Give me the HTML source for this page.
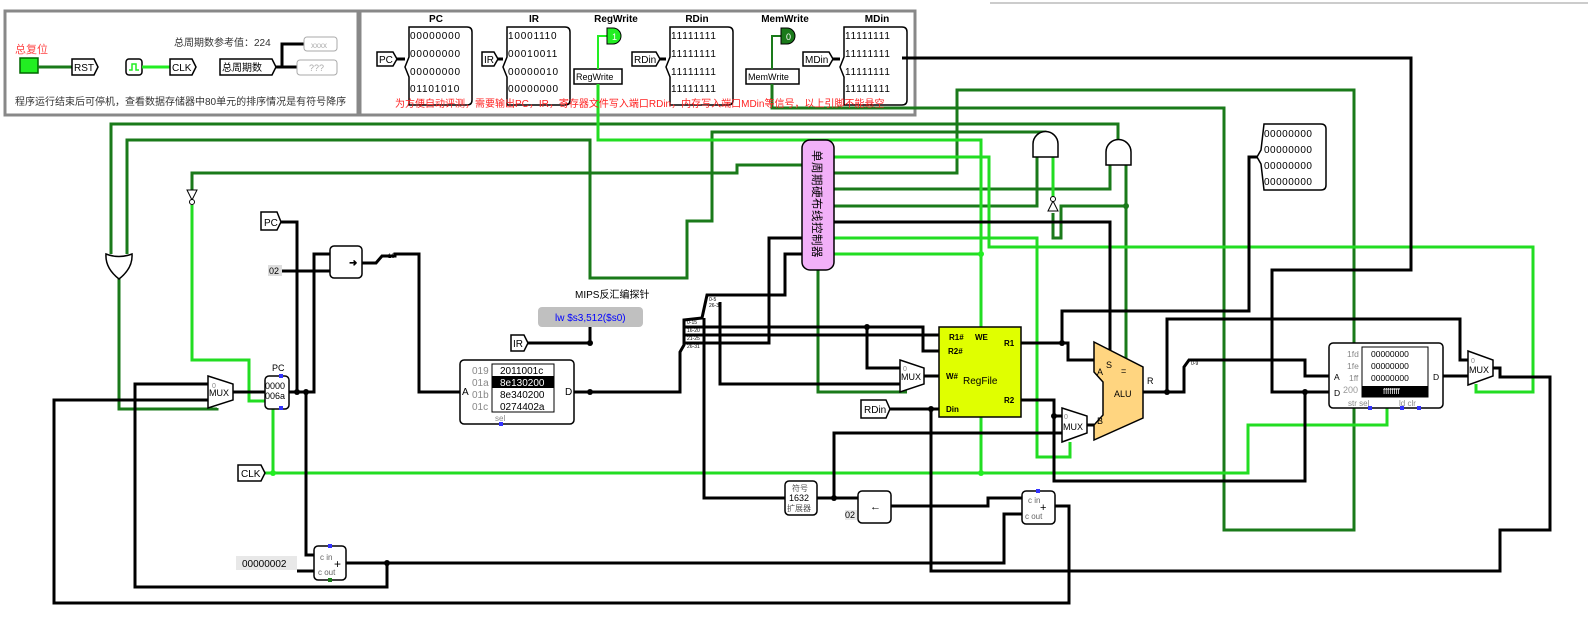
<!DOCTYPE html>
<html><head><meta charset="utf-8"><style>
body{margin:0;background:#fff;width:1588px;height:634px;overflow:hidden}
svg{display:block}
text{font-family:"Liberation Sans","Noto Sans CJK SC",sans-serif}
</style></head><body>
<svg width="1588" height="634" viewBox="0 0 1588 634" xmlns="http://www.w3.org/2000/svg">
<line x1="990" y1="3" x2="1588" y2="3" stroke="#999" stroke-width="1"/>
<!-- panels -->
<rect x="5" y="11" width="353" height="104" fill="#fff" stroke="#888" stroke-width="3"/>
<rect x="360" y="11" width="555" height="104" fill="#fff" stroke="#888" stroke-width="3"/>
<text x="15" y="53" font-size="11" fill="#f44">总复位</text>
<rect x="20" y="58" width="18" height="15" fill="#2e2" stroke="#060" stroke-width="1.5"/>
<line x1="38" y1="67" x2="72" y2="67" stroke="#1a7a1a" stroke-width="3"/>
<path d="M72 59h22l4 8-4 8h-22z" fill="#fff" stroke="#000" stroke-width="1.5"/><text x="74" y="71" font-size="10">RST</text>
<rect x="126" y="59" width="16" height="16" rx="3" fill="#fff" stroke="#000" stroke-width="1.5"/>
<path d="M129 70h3v-6h4v6h3" fill="none" stroke="#2e2" stroke-width="1.5"/>
<line x1="142" y1="67" x2="170" y2="67" stroke="#2e2" stroke-width="3"/>
<path d="M170 59h22l4 8-4 8h-22z" fill="#fff" stroke="#000" stroke-width="1.5"/><text x="172" y="71" font-size="10">CLK</text>
<text x="174" y="46" font-size="10" fill="#333">总周期数参考值：224</text>
<path d="M220 59h52l4 8-4 8h-52z" fill="#fff" stroke="#000" stroke-width="1.5"/><text x="222" y="71" font-size="10">总周期数</text>
<path d="M276 67h22M282 67v-23h22M282 67h16" fill="none" stroke="#000" stroke-width="3"/>
<rect x="304" y="37" width="33" height="14" rx="3" fill="#fff" stroke="#aaa"/><text x="311" y="48" font-size="8" fill="#aaa">xxxx</text>
<rect x="297" y="60" width="40" height="15" rx="3" fill="#fff" stroke="#aaa"/><text x="309" y="71" font-size="9" fill="#aaa">???</text>
<text x="15" y="105" font-size="10" fill="#333">程序运行结束后可停机，查看数据存储器中80单元的排序情况是有符号降序</text>
<!-- probes -->
<g font-size="10" font-weight="bold" text-anchor="middle">
<text x="436" y="22">PC</text><text x="534" y="22">IR</text><text x="616" y="22">RegWrite</text><text x="697" y="22">RDin</text><text x="785" y="22">MemWrite</text><text x="877" y="22">MDin</text></g>
<g font-size="10" font-family="Liberation Mono" letter-spacing="0.8">
<path d="M409 27h58q5 0 5 5v68q0 5-5 5h-58v-28l-4-10 4-10z" fill="#fff" stroke="#000" stroke-width="1.5"/>
<text x="410" y="39">00000000</text><text x="410" y="57">00000000</text><text x="410" y="75">00000000</text><text x="410" y="92">01101010</text>
<path d="M507 27h58q5 0 5 5v68q0 5-5 5h-58v-28l-4-10 4-10z" fill="#fff" stroke="#000" stroke-width="1.5"/>
<text x="508" y="39">10001110</text><text x="508" y="57">00010011</text><text x="508" y="75">00000010</text><text x="508" y="92">00000000</text>
<path d="M670 27h58q5 0 5 5v68q0 5-5 5h-58v-28l-4-10 4-10z" fill="#fff" stroke="#000" stroke-width="1.5"/>
<text x="671" y="39">11111111</text><text x="671" y="57">11111111</text><text x="671" y="75">11111111</text><text x="671" y="92">11111111</text>
<path d="M844 27h58q5 0 5 5v68q0 5-5 5h-58v-28l-4-10 4-10z" fill="#fff" stroke="#000" stroke-width="1.5"/>
<text x="845" y="39">11111111</text><text x="845" y="57">11111111</text><text x="845" y="75">11111111</text><text x="845" y="92">11111111</text>
</g>
<g font-size="10" stroke-width="1.5">
<path d="M377 52h16l4 7-4 7h-16z" fill="#fff" stroke="#000"/><text x="379" y="63">PC</text><line x1="397" y1="59" x2="405" y2="59" stroke="#000" stroke-width="3"/>
<path d="M482 52h12l4 7-4 7h-12z" fill="#fff" stroke="#000"/><text x="484" y="63">IR</text><line x1="498" y1="59" x2="503" y2="59" stroke="#000" stroke-width="3"/>
<path d="M632 52h24l4 7-4 7h-24z" fill="#fff" stroke="#000"/><text x="634" y="63">RDin</text><line x1="660" y1="59" x2="666" y2="59" stroke="#000" stroke-width="3"/>
<path d="M803 52h26l4 7-4 7h-26z" fill="#fff" stroke="#000"/><text x="805" y="63">MDin</text><line x1="833" y1="59" x2="840" y2="59" stroke="#000" stroke-width="3"/>
<rect x="574" y="69" width="48" height="15" fill="#fff" stroke="#000"/><text x="576" y="80" font-size="9">RegWrite</text>
<rect x="746" y="69" width="53" height="15" fill="#fff" stroke="#000"/><text x="748" y="80" font-size="9">MemWrite</text>
</g>
<path d="M598 69v-33h10" fill="none" stroke="#2e2" stroke-width="2"/>
<path d="M607 28h6a8 8 0 0 1 0 16h-6z" fill="#2e2" stroke="#000"/><text x="612" y="40" font-size="9" fill="#fff">1</text>
<path d="M772 69v-33h10" fill="none" stroke="#1a7a1a" stroke-width="2"/>
<path d="M781 28h6a8 8 0 0 1 0 16h-6z" fill="#1a7a1a" stroke="#000"/><text x="786" y="40" font-size="9" fill="#fff">0</text>

<!-- dark green wires -->
<g fill="none" stroke="#1a7a1a" stroke-width="3">
<path d="M772 84V108H1224V530H1354V408"/>
<path d="M111 254V124H1118V140"/>
<path d="M127 254V140H590V278H687V221H712V132H1045V134"/>
<path d="M192 190V173H737V165H802"/>
<path d="M119 279V409H217V408"/>
<path d="M834 173H957V90H1354V343"/>
<path d="M834 189H1110V165"/>
<path d="M834 206H1037V157"/>
<path d="M1053 213V238H1061V206H1126V360M1126 165V206"/>
<path d="M818 270V392H907"/>
</g>
<!-- light green wires -->
<g fill="none" stroke="#22dd22" stroke-width="3">
<path d="M598 84V140H981V327"/>
<path d="M834 254H981"/>
<path d="M834 157H989V247H1533V392H1476V384"/>
<path d="M834 238H1037V457H1070V442"/>
<path d="M1053 157V198"/>
<path d="M192 205V360H249V401H265"/>
<path d="M265 473H1248V425H1387V408"/>
<path d="M273 473V409"/>
<path d="M981 417V473"/>
</g>
<!-- black wires -->
<g fill="none" stroke="#000" stroke-width="3">
<path d="M281 222H297V392"/>
<path d="M233 392H265M289 392H314V254H330M306 392V555H314"/>
<path d="M282 271H330"/>
<path d="M362 263H376L382 256H395V254H419V392H460"/>
<path d="M297 571H314"/>
<path d="M346 563H1004V514H1022"/>
<path d="M387 563V587H135V384H208"/>
<path d="M208 400H54V603H1069V506H1055"/>
<path d="M528 343H590V327"/>
<path d="M574 392H680V352L684 345V320L702 318L707 295H785V254H802"/>
<path d="M684 327H923V351H939M867 327V368H900"/>
<path d="M684 335H939"/>
<path d="M684 343H769V238H802"/>
<path d="M704 318V498H785"/>
<path d="M720 302V384H900"/>
<path d="M924 376H939"/>
<path d="M889 409H939M931 409V571H1500V530H1550V377H1500V368H1492"/>
<path d="M817 498H858M834 498V433H1062"/>
<path d="M891 506H988V498H1022"/>
<path d="M1021 343H1068V360H1094M1062 343V311H1249V157H1257"/>
<path d="M1021 400H1054V481H1305V392H1330M1054 416H1062"/>
<path d="M1087 425H1094"/>
<path d="M834 222H1110V351"/>
<path d="M1143 392H1167V319H1460V360H1468M1167 392H1184V367L1189 360H1305V376H1329"/>
<path d="M902 58H1411V270H1272V392H1305"/>
<path d="M1443 376H1468"/>
</g>
<!-- junction dots -->
<g fill="#000">
<circle cx="297" cy="392" r="3"/><circle cx="306" cy="392" r="3"/><circle cx="387" cy="563" r="3"/><circle cx="590" cy="343" r="3"/><circle cx="590" cy="392" r="3"/><circle cx="867" cy="327" r="3"/><circle cx="931" cy="409" r="3"/><circle cx="834" cy="498" r="3"/><circle cx="1062" cy="343" r="3"/><circle cx="1054" cy="416" r="3"/><circle cx="1167" cy="392" r="3"/><circle cx="1305" cy="392" r="3"/>
</g>
<g fill="#2e2"><circle cx="273" cy="473" r="3"/><circle cx="981" cy="254" r="3"/><circle cx="981" cy="473" r="3"/></g>
<g fill="#1a7a1a"><circle cx="1126" cy="206" r="3"/></g>
<!-- OR gate left -->
<path d="M106 254q13 5 26 0q1 14-13 25q-14-11-13-25z" fill="#fff" stroke="#000" stroke-width="1.5"/>
<!-- inverters -->
<path d="M187 190h10l-5 10z" fill="#fff" stroke="#000"/><circle cx="192" cy="202" r="2.5" fill="#fff" stroke="#000"/>
<path d="M1048 211h10l-5-10z" fill="#fff" stroke="#000"/><circle cx="1053" cy="199" r="2.5" fill="#fff" stroke="#000"/>
<!-- AND gates -->
<path d="M1033 157v-13a12 12 0 0 1 25 0v13z" fill="#fff" stroke="#000" stroke-width="1.5"/>
<path d="M1106 165v-13a12 12 0 0 1 25 0v13z" fill="#fff" stroke="#000" stroke-width="1.5"/>
<!-- controller -->
<rect x="802" y="140" width="32" height="130" rx="8" fill="#f2b0f8" stroke="#000" stroke-width="1.5"/>
<text font-size="11.5" transform="translate(813,150) rotate(90)" letter-spacing="0.5">单周期硬布线控制器</text>
<!-- PC area -->
<path d="M261 212h16l4 10-4 8h-16z" fill="#fff" stroke="#000" stroke-width="1.5"/><text x="264" y="226" font-size="10">PC</text>
<rect x="268" y="265" width="14" height="11" fill="#ddd"/><text x="269" y="274" font-size="9">02</text>
<rect x="330" y="246" width="32" height="32" rx="4" fill="#fff" stroke="#000" stroke-width="1.5"/><text x="349" y="266" font-size="10" font-weight="bold">➜</text>
<text x="388" y="258" font-size="6">10</text>
<path d="M208 376l25 8v16l-25 8z" fill="#fff" stroke="#000" stroke-width="1.5"/><text x="209" y="396" font-size="9">MUX</text><text x="212" y="388" font-size="7" fill="#888">0</text>
<text x="272" y="371" font-size="9">PC</text>
<rect x="265" y="376" width="24" height="33" rx="4" fill="#fff" stroke="#000" stroke-width="1.5"/>
<text x="265" y="389" font-size="9">0000</text><text x="265" y="399" font-size="9">006a</text>
<rect x="279" y="374" width="4" height="4" fill="#33f"/><rect x="279" y="406" width="4" height="4" fill="#33f"/>
<path d="M238 465h23l4 8-4 8h-23z" fill="#fff" stroke="#000" stroke-width="1.5"/><text x="241" y="477" font-size="10">CLK</text>
<!-- adder 1 -->
<rect x="314" y="546" width="32" height="34" rx="4" fill="#fff" stroke="#000" stroke-width="1.5"/>
<text x="320" y="560" font-size="8" fill="#666">c in</text><text x="318" y="575" font-size="8" fill="#666">c out</text><text x="334" y="568" font-size="12">+</text>
<rect x="328" y="544" width="4" height="4" fill="#33f"/><rect x="328" y="578" width="4" height="4" fill="#1a7a1a"/>
<rect x="236" y="556" width="61" height="14" fill="#e8e8e8"/><text x="242" y="567" font-size="10">00000002</text>
<!-- ROM -->
<rect x="460" y="360" width="114" height="64" rx="4" fill="#fff" stroke="#000" stroke-width="1.5"/>
<rect x="492" y="364" width="62" height="48" fill="#fff" stroke="#000"/>
<rect x="492" y="376" width="62" height="12" fill="#000"/>
<g font-size="10"><text x="472" y="374" fill="#888">019</text><text x="472" y="386" fill="#888">01a</text><text x="472" y="398" fill="#888">01b</text><text x="472" y="410" fill="#888">01c</text>
<text x="500" y="374">2011001c</text><text x="500" y="386" fill="#fff">8e130200</text><text x="500" y="398">8e340200</text><text x="500" y="410">0274402a</text>
<text x="462" y="395">A</text><text x="565" y="395">D</text><text x="495" y="421" fill="#888" font-size="8">sel</text></g>
<rect x="499" y="422" width="4" height="4" fill="#33f"/>
<text x="575" y="298" font-size="10">MIPS反汇编探针</text>
<rect x="538" y="307" width="105" height="20" rx="4" fill="#c0c0c0"/><text x="555" y="321" font-size="10" fill="#00f">lw $s3,512($s0)</text>
<path d="M511 335h13l4 8-4 8h-13z" fill="#fff" stroke="#000" stroke-width="1.5"/><text x="513" y="347" font-size="10">IR</text>
<g font-size="5"><text x="709" y="301">0-5</text><text x="709" y="307">26-31</text><text x="687" y="324">0-15</text><text x="687" y="332">16-20</text><text x="687" y="340">21-25</text><text x="687" y="348">26-31</text></g>
<!-- regfile -->
<rect x="939" y="327" width="82" height="90" fill="#e0ff00" stroke="#000" stroke-width="1.5"/>
<g font-size="8" font-weight="bold"><text x="949" y="340">R1#</text><text x="975" y="340">WE</text><text x="948" y="354">R2#</text><text x="946" y="379">W#</text><text x="946" y="412">Din</text><text x="1004" y="346">R1</text><text x="1004" y="403">R2</text></g>
<text x="963" y="384" font-size="10">RegFile</text>
<path d="M900 360l24 8v16l-24 8z" fill="#fff" stroke="#000" stroke-width="1.5"/><text x="901" y="380" font-size="9">MUX</text><text x="903" y="371" font-size="7" fill="#888">0</text>
<path d="M861 400h25l4 9-4 9h-25z" fill="#fff" stroke="#000" stroke-width="1.5"/><text x="864" y="413" font-size="10">RDin</text>
<path d="M1062 408l25 8v17l-25 9z" fill="#fff" stroke="#000" stroke-width="1.5"/><text x="1063" y="430" font-size="9">MUX</text><text x="1064" y="419" font-size="7" fill="#888">0</text>
<!-- ALU -->
<path d="M1094 342l49 25v51l-49 22v-15l9-10v-33l-9-10z" fill="#ffd580" stroke="#000" stroke-width="1.5"/>
<g font-size="9"><text x="1097" y="375">A</text><text x="1106" y="368">S</text><text x="1121" y="374">=</text><text x="1097" y="424">B</text><text x="1114" y="397">ALU</text><text x="1147" y="384">R</text></g>
<text x="1191" y="365" font-size="5">0-9</text>
<!-- sign ext -->
<rect x="785" y="481" width="32" height="34" rx="4" fill="#fff" stroke="#000" stroke-width="1.5"/>
<text x="792" y="491" font-size="8" fill="#555">符号</text><text x="789" y="501" font-size="9">1632</text><text x="787" y="511" font-size="8" fill="#555">扩展器</text>
<rect x="858" y="491" width="33" height="32" rx="4" fill="#fff" stroke="#000" stroke-width="1.5"/><text x="870" y="510" font-size="11">←</text>
<rect x="845" y="510" width="12" height="10" fill="#e8e8e8"/><text x="845" y="518" font-size="9">02</text>
<rect x="1022" y="491" width="33" height="33" rx="4" fill="#fff" stroke="#000" stroke-width="1.5"/>
<text x="1028" y="503" font-size="8" fill="#666">c in</text><text x="1025" y="519" font-size="8" fill="#666">c out</text><text x="1040" y="511" font-size="11">+</text>
<rect x="1036" y="489" width="4" height="4" fill="#33f"/>
<!-- probe right -->
<path d="M1264 124h57q5 0 5 5v56q0 5-5 5h-57l-3-26-4-7 4-7z" fill="#fff" stroke="#000" stroke-width="1.5"/>
<g font-size="10" font-family="Liberation Mono" letter-spacing="0.5"><text x="1264" y="137">00000000</text><text x="1264" y="153">00000000</text><text x="1264" y="169">00000000</text><text x="1264" y="185">00000000</text></g>
<!-- RAM -->
<rect x="1329" y="343" width="114" height="65" rx="4" fill="#fff" stroke="#000" stroke-width="1.5"/>
<rect x="1362" y="347" width="66" height="50" fill="#fff" stroke="#000"/><rect x="1362" y="386" width="66" height="11" fill="#000"/>
<g font-size="8.5"><text x="1347" y="357" fill="#888">1fd</text><text x="1347" y="369" fill="#888">1fe</text><text x="1349" y="381" fill="#888">1ff</text><text x="1343" y="393" fill="#999" font-size="9">200</text>
<text x="1371" y="357">00000000</text><text x="1371" y="369">00000000</text><text x="1371" y="381">00000000</text><text x="1383" y="394" fill="#fff" font-size="8">ffffffff</text>
<text x="1334" y="380">A</text><text x="1334" y="396">D</text><text x="1433" y="380">D</text><text x="1348" y="406" fill="#888" font-size="8">str  sel</text><text x="1399" y="406" fill="#888" font-size="8">ld  clr</text></g>
<rect x="1368" y="406" width="4" height="4" fill="#33f"/><rect x="1400" y="406" width="4" height="4" fill="#33f"/><rect x="1417" y="406" width="4" height="4" fill="#33f"/>
<path d="M1468 351l25 9v16l-25 9z" fill="#fff" stroke="#000" stroke-width="1.5"/><text x="1469" y="373" font-size="9">MUX</text><text x="1471" y="363" font-size="7" fill="#888">0</text>
<text x="395" y="107" font-size="10" fill="#f22">为方便自动评测，需要输出PC，IR，寄存器文件写入端口RDin，内存写入端口MDin等信号，以上引脚不能悬空</text>
</svg>
</body></html>
